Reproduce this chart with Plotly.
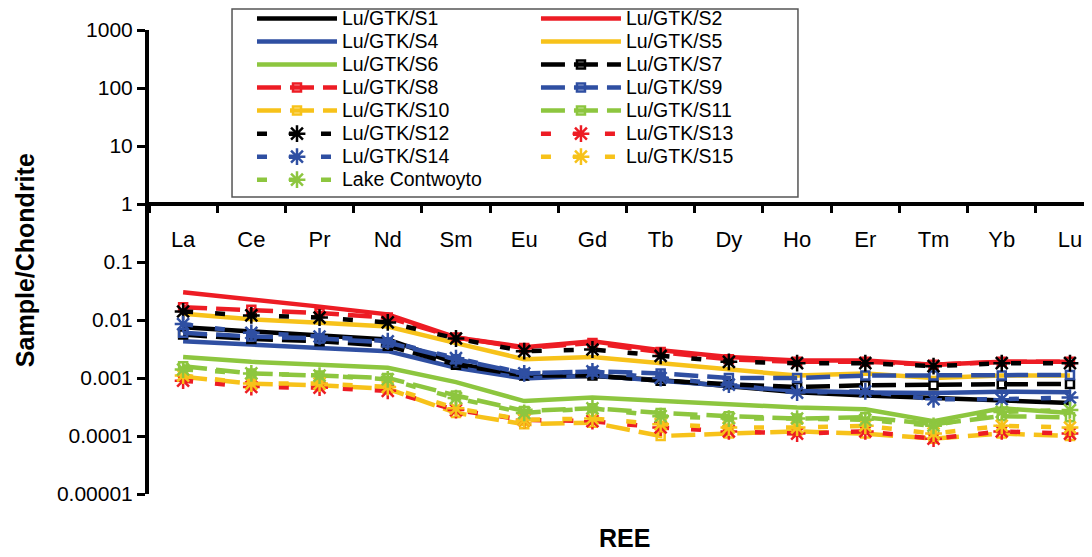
import plotly.graph_objects as go

ree = ["La", "Ce", "Pr", "Nd", "Sm", "Eu", "Gd", "Tb", "Dy", "Ho", "Er", "Tm", "Yb", "Lu"]

s1 = [0.0075, 0.0063, 0.0055, 0.0046, 0.0018, 0.00105, 0.00108, 0.00092, 0.00072, 0.00057, 0.0005, 0.00045, 0.00041, 0.00037]
s2 = [0.030, 0.023, 0.017, 0.0125, 0.0050, 0.0034, 0.0043, 0.0030, 0.0023, 0.0020, 0.0020, 0.0017, 0.0019, 0.0019]
s4 = [0.0043, 0.0037, 0.0033, 0.0029, 0.0015, 0.00098, 0.0011, 0.0009, 0.00075, 0.0006, 0.00056, 0.00055, 0.00058, 0.00057]
s5 = [0.0128, 0.0103, 0.0090, 0.0077, 0.0040, 0.0021, 0.0023, 0.0018, 0.0014, 0.0011, 0.0012, 0.0010, 0.0011, 0.0011]
s6 = [0.0023, 0.0019, 0.0017, 0.0015, 0.00085, 0.00040, 0.00046, 0.00040, 0.00035, 0.00031, 0.00029, 0.00018, 0.00030, 0.00025]
s7 = [0.0056, 0.0047, 0.0043, 0.0036, 0.0017, 0.0011, 0.0011, 0.0009, 0.00078, 0.0007, 0.00075, 0.00075, 0.00078, 0.00079]
s8 = [0.0166, 0.015, 0.0132, 0.011, 0.0050, 0.0033, 0.0040, 0.0028, 0.0021, 0.0019, 0.0019, 0.0017, 0.0019, 0.0019]
s9 = [0.0060, 0.0052, 0.0048, 0.0041, 0.0021, 0.0012, 0.0013, 0.0012, 0.0010, 0.0010, 0.0011, 0.0011, 0.0011, 0.00113]
s10 = [0.00105, 0.0008, 0.00075, 0.00065, 0.00025, 0.00016, 0.00017, 0.00010, 0.00011, 0.00012, 0.00011, 0.00009, 0.00011, 0.00010]
s11 = [0.0016, 0.0012, 0.0011, 0.0010, 0.0005, 0.00027, 0.00030, 0.00025, 0.00022, 0.00020, 0.00021, 0.00016, 0.00022, 0.00021]
s12 = [0.014, 0.012, 0.011, 0.0091, 0.0048, 0.0029, 0.0031, 0.0024, 0.0019, 0.0018, 0.0018, 0.0016, 0.0018, 0.0018]
s13 = [0.0009, 0.0007, 0.00068, 0.0006, 0.00028, 0.00019, 0.00018, 0.00014, 0.00012, 0.00011, 0.00012, 0.00009, 0.00012, 0.00011]
s14 = [0.0085, 0.0060, 0.0052, 0.0043, 0.0022, 0.0012, 0.0013, 0.0010, 0.00077, 0.00056, 0.00059, 0.00043, 0.00043, 0.00046]
s15 = [0.0011, 0.0008, 0.0008, 0.0007, 0.0003, 0.00019, 0.0002, 0.00016, 0.00014, 0.00014, 0.00015, 0.00011, 0.00015, 0.00014]
lake = [0.0014, 0.0012, 0.0011, 0.00095, 0.00045, 0.00025, 0.0003, 0.00022, 0.0002, 0.0002, 0.00019, 0.00015, 0.00026, 0.00028]

ytick_vals = [0.00001, 0.0001, 0.001, 0.01, 0.1, 1, 10, 100, 1000]
ytick_text = ["0.00001", "0.0001", "0.001", "0.01", "0.1", "1", "10", "100", "1000"]

BLACK = "#000000"
RED = "#ED1C24"
BLUE = "#2F4FA2"
YELLOW = "#F7C21A"
GREEN = "#8DC63F"

# (name, values, colour, style, legend column)
series = [
    ("Lu/GTK/S1", s1, BLACK, "solid", "legend"),
    ("Lu/GTK/S2", s2, RED, "solid", "legend2"),
    ("Lu/GTK/S4", s4, BLUE, "solid", "legend"),
    ("Lu/GTK/S5", s5, YELLOW, "solid", "legend2"),
    ("Lu/GTK/S6", s6, GREEN, "solid", "legend"),
    ("Lu/GTK/S7", s7, BLACK, "square", "legend2"),
    ("Lu/GTK/S8", s8, RED, "square", "legend"),
    ("Lu/GTK/S9", s9, BLUE, "square", "legend2"),
    ("Lu/GTK/S10", s10, YELLOW, "square", "legend"),
    ("Lu/GTK/S11", s11, GREEN, "square", "legend2"),
    ("Lu/GTK/S12", s12, BLACK, "star", "legend"),
    ("Lu/GTK/S13", s13, RED, "star", "legend2"),
    ("Lu/GTK/S14", s14, BLUE, "star", "legend"),
    ("Lu/GTK/S15", s15, YELLOW, "star", "legend2"),
    ("Lake Contwoyto", lake, GREEN, "star", "legend"),
]

fig = go.Figure()
for name, vals, col, kind, leg in series:
    label = '<span style="font-size:19.5px">' + name + '</span>'
    if kind == "solid":
        fig.add_trace(go.Scatter(x=ree, y=vals, name=label, legend=leg, mode="lines",
                                 line=dict(color=col, width=4.5)))
    elif kind == "square":
        fig.add_trace(go.Scatter(x=ree, y=vals, name=label, legend=leg, mode="lines+markers",
                                 line=dict(color=col, width=4.5, dash="24px,9px"),
                                 marker=dict(symbol="square-open", size=8, color=col,
                                             line=dict(color=col, width=2.5))))
    else:
        fig.add_trace(go.Scatter(x=ree, y=vals, name=label, legend=leg, mode="lines+markers",
                                 line=dict(color=col, width=4.5, dash="10px,22px"),
                                 marker=dict(symbol="asterisk-open", size=14, color=col,
                                             line=dict(color=col, width=2.5))))

FONT = "Arial, Liberation Sans, sans-serif"

leg_common = dict(
    orientation="v", yanchor="top", xanchor="left",
    itemwidth=80,
    borderwidth=0, bgcolor="rgba(0,0,0,0)",
    font=dict(family=FONT, size=15.4, color="black"),
    traceorder="normal", tracegroupgap=0,
)

fig.update_layout(
    width=1092, height=557,
    margin=dict(l=141, r=0, t=22, b=71, autoexpand=False),
    paper_bgcolor="white", plot_bgcolor="white",
    font=dict(family=FONT, size=18, color="black"),
    showlegend=True,
    legend=dict(x=0.1083, y=1.0603, **leg_common),
    legend2=dict(x=0.4069, y=1.0603, **leg_common),
    shapes=[
        dict(type="rect", xref="paper", yref="paper",
             x0=0.0873, x1=0.6824, y0=0.640, y1=1.045,
             line=dict(color="#555555", width=1.5), fillcolor="rgba(0,0,0,0)",
             layer="above"),
    ],
    xaxis=dict(
        type="category",
        categoryorder="array", categoryarray=ree,
        range=[-0.5, 13.44],
        anchor="free", position=0.625,
        showline=True, linecolor="black", linewidth=4,
        ticks="outside", ticklen=7, tickwidth=3, tickcolor="black",
        tickson="boundaries",
        ticklabelstandoff=15,
        tickfont=dict(family=FONT, size=22),
        showgrid=False, zeroline=False,
    ),
    yaxis=dict(
        type="log", range=[-5, 3],
        tickmode="array", tickvals=ytick_vals, ticktext=ytick_text,
        showline=True, linecolor="black", linewidth=4,
        ticks="outside", ticklen=8, tickwidth=3, tickcolor="black",
        tickfont=dict(family=FONT, size=21),
        showgrid=False, zeroline=False,
    ),
    annotations=[
        dict(text="<b>Sample/Chondrite</b>", xref="paper", yref="paper",
             x=-0.1304, y=0.504, xanchor="center", yanchor="middle",
             textangle=-90, showarrow=False,
             font=dict(family=FONT, size=25, color="black")),
        dict(text="<b>REE</b>", xref="paper", yref="paper",
             x=0.5005, y=-0.0948, xanchor="center", yanchor="middle",
             showarrow=False,
             font=dict(family=FONT, size=25, color="black")),
    ],
)

fig.write_html("out.html")
